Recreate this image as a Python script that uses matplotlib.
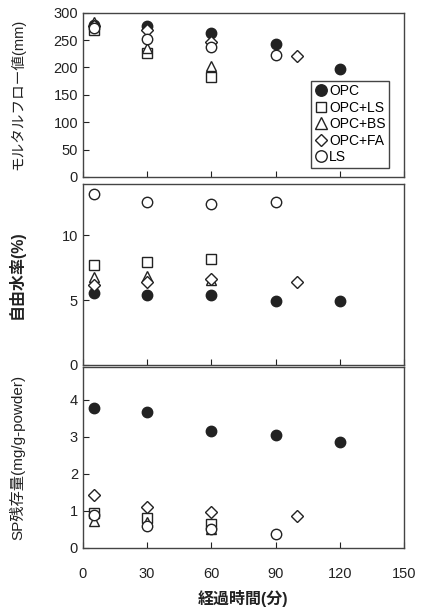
import matplotlib.pyplot as plt

plt.rcParams['font.family'] = ['Liberation Sans', 'Noto Sans CJK JP', 'DejaVu Sans']

# 経過時間 (min) for each series
opc_t = [5, 30, 60, 90, 120]
ls_mix_t = [5, 30, 60]
bs_t = [5, 30, 60]
fa_t = [5, 30, 60, 100]
ls_t = [5, 30, 60, 90]

# モルタルフロー値 (mm)
flow_opc = [278, 276, 263, 243, 197]
flow_ls_mix = [268, 227, 182]
flow_bs = [283, 236, 202]
flow_fa = [275, 268, 247, 221]
flow_ls = [272, 252, 237, 223]

# 自由水率 (%)
water_opc = [5.55, 5.4, 5.4, 4.95, 4.95]
water_ls_mix = [7.75, 7.95, 8.2]
water_bs = [6.75, 6.85, 6.55]
water_fa = [6.2, 6.4, 6.6, 6.4]
water_ls = [13.2, 12.6, 12.4, 12.6]

# SP残存量 (mg/g-powder)
sp_opc = [3.77, 3.66, 3.16, 3.04, 2.87]
sp_ls_mix = [0.95, 0.8, 0.65]
sp_bs = [0.72, 0.7, 0.5]
sp_fa = [1.44, 1.1, 0.96, 0.87]
sp_ls = [0.88, 0.6, 0.5, 0.38]

labels = ['OPC', 'OPC+LS', 'OPC+BS', 'OPC+FA', 'LS']
ink = '#222222'

fig = plt.figure(figsize=(4.23, 6.08), dpi=100)
ax1 = fig.add_axes([0.196, 0.709, 0.759, 0.270])
ax2 = fig.add_axes([0.196, 0.400, 0.759, 0.298])
ax3 = fig.add_axes([0.196, 0.099, 0.759, 0.298])


def draw(ax, vals):
    opc, lsm, bs, fa, ls = vals
    ax.plot(opc_t, opc, 'o', ms=7.5, mfc=ink, mec=ink, label=labels[0])
    ax.plot(ls_mix_t, lsm, 's', ms=7, mfc='white', mec=ink, mew=1.0, label=labels[1])
    ax.plot(bs_t, bs, '^', ms=7.5, mfc='white', mec=ink, mew=1.0, label=labels[2])
    ax.plot(fa_t, fa, 'D', ms=6, mfc='white', mec=ink, mew=1.0, label=labels[3])
    ax.plot(ls_t, ls, 'o', ms=7.5, mfc='white', mec=ink, mew=1.0, label=labels[4])
    ax.set_xlim(0, 150)
    ax.set_xticks([0, 30, 60, 90, 120, 150])
    ax.tick_params(direction='in', length=4, color=ink, labelsize=10.5, labelcolor=ink)
    for s in ax.spines.values():
        s.set_color('#444444')
        s.set_linewidth(1.0)


draw(ax1, [flow_opc, flow_ls_mix, flow_bs, flow_fa, flow_ls])
ax1.set_ylim(0, 300)
ax1.set_yticks(range(0, 301, 50))
ax1.tick_params(labelbottom=False)
ax1.set_ylabel('モルタルフロー値(mm)', fontsize=10.5, color=ink)
leg = ax1.legend(loc='lower right', fontsize=10, handletextpad=0.05, handlelength=1.0,
                 borderpad=0.25, labelspacing=0.18, fancybox=False, framealpha=1,
                 edgecolor='#444444', bbox_to_anchor=(0.975, 0.015), markerscale=1.1)
leg.get_frame().set_linewidth(1.0)

draw(ax2, [water_opc, water_ls_mix, water_bs, water_fa, water_ls])
ax2.set_ylim(0, 14)
ax2.set_yticks([0, 5, 10])
ax2.tick_params(labelbottom=False)
ax2.set_ylabel('自由水率(%)', fontsize=11.5, color=ink, fontweight='bold')

draw(ax3, [sp_opc, sp_ls_mix, sp_bs, sp_fa, sp_ls])
ax3.set_ylim(0, 4.9)
ax3.set_yticks([0, 1, 2, 3, 4])
ax3.tick_params(axis='x', pad=14)
ax3.set_ylabel('SP残存量(mg/g-powder)', fontsize=11, color=ink)
ax3.set_xlabel('経過時間(分)', fontsize=11.5, color=ink, fontweight='bold', labelpad=6)

for ax in (ax1, ax2, ax3):
    ax.yaxis.set_label_coords(-0.18, 0.5)

fig.savefig('out.png', dpi=100)
